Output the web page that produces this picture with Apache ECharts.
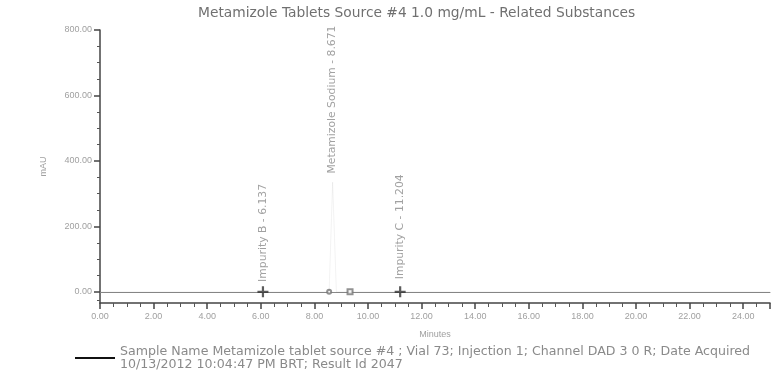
<!DOCTYPE html>
<html><head><meta charset="utf-8">
<script src="https://cdn.jsdelivr.net/npm/echarts@6/dist/echarts.min.js"></script>
<style>html,body{margin:0;padding:0;background:#fff}#c{width:772px;height:380px}</style>
</head><body><div id="c"></div>
<script>
// Chart data
const titleText = 'Metamizole Tablets Source #4 1.0 mg/mL - Related Substances';
const xTitle = 'Minutes';
const yTitle = 'mAU';
const yTickValues = [0, 200, 400, 600, 800];
const yMinorValues = [-25, 50, 100, 150, 250, 300, 350, 450, 500, 550, 650, 700, 750];
const traceTimes  = [0, 6.00, 6.08, 6.16, 8.55, 8.68, 8.82, 11.12, 11.20, 11.28, 25];
const traceValues = [0, 0, 4, 0, 0, 335, 0, 0, 5, 0, 0];
const peakTimes  = [6.08, 8.68, 11.20];
const peakLabelAt = [6, 337, 14];
const peakNames  = ['Impurity B - 6.137', 'Metamizole Sodium - 8.671', 'Impurity C - 11.204'];
const crossTimes = [6.08, 11.20];
const circleTimes = [8.55];
const squareTimes = [9.33];
const legendText = 'Sample Name Metamizole tablet source #4 ; Vial 73; Injection 1; Channel DAD 3 0 R; Date Acquired\n10/13/2012 10:04:47 PM BRT; Result Id 2047';

const chart = echarts.init(document.getElementById('c'));
chart.setOption({
  animation: false,
  backgroundColor: '#fff',
  title: { text: titleText, left: 193, top: 1,
    textStyle: { fontSize: 13.8, fontWeight: 'normal', color: '#707070', fontFamily: 'DejaVu Sans' } },
  grid: { left: 100, right: 2, top: 30, bottom: 77 },
  legend: {
    data: [{ name: legendText, icon: 'rect' }],
    left: 70, top: 340, itemWidth: 40, itemHeight: 2, itemGap: 12,
    textStyle: { fontSize: 12.6, color: '#8a8a8a', lineHeight: 13, fontFamily: 'DejaVu Sans' }
  },
  xAxis: [{
    type: 'value', min: 0, max: 25, interval: 2,
    name: xTitle, nameLocation: 'middle', nameGap: 27,
    nameTextStyle: { fontSize: 9, color: '#a0a0a0' },
    axisLine: { onZero: false, lineStyle: { color: '#444', width: 1.5 } },
    axisTick: { length: 6, lineStyle: { color: '#444', width: 1.5 } },
    minorTick: { show: true, splitNumber: 4, length: 4, lineStyle: { color: '#555' } },
    axisLabel: { fontSize: 9, color: '#a0a0a0', margin: 9, formatter: v => v.toFixed(2), showMaxLabel: false },
    splitLine: { show: false }
  }, {
    type: 'value', min: 0, max: 25, position: 'top',
    axisLine: { show: true, lineStyle: { color: '#888', width: 1 } },
    axisTick: { show: false }, axisLabel: { show: false }, splitLine: { show: false }
  }],
  yAxis: [{
    type: 'value', min: -34, max: 800,
    name: yTitle, nameLocation: 'middle', nameGap: 52, nameRotate: 90,
    nameTextStyle: { fontSize: 9, color: '#a0a0a0' },
    axisLine: { onZero: false, lineStyle: { color: '#444', width: 1.5 } },
    axisTick: { length: 6, lineStyle: { color: '#444', width: 1.5 }, customValues: yTickValues },
    axisLabel: { fontSize: 9, color: '#a0a0a0', margin: 8, formatter: v => v.toFixed(2), customValues: yTickValues },
    splitLine: { show: false }
  }, {
    type: 'value', min: -34, max: 800, position: 'left',
    axisLine: { show: false },
    axisTick: { show: true, length: 3, lineStyle: { color: '#555', width: 1 }, customValues: yMinorValues },
    axisLabel: { show: false }, splitLine: { show: false }
  }],
  series: [{
    name: legendText, type: 'line', data: traceTimes.map((t, i) => [t, traceValues[i]]),
    symbol: 'none', lineStyle: { color: '#111', width: 1, opacity: 0.05 }, itemStyle: { color: '#111' },
    silent: true
  }, {
    type: 'scatter', data: peakTimes.map((t, i) => [t, peakLabelAt[i], peakNames[i]]),
    symbolSize: 0,
    label: { show: true, rotate: 90, align: 'left', verticalAlign: 'middle', position: [0, 0], offset: [8, 0],
      formatter: p => p.data[2], fontSize: 10.8, color: '#8a8a8a', fontFamily: 'DejaVu Sans' }
  }, {
    type: 'scatter', data: crossTimes.map(t => [t, 0]),
    symbol: 'path://M4,0H6V4H10V6H6V10H4V6H0V4H4Z', symbolSize: 11,
    itemStyle: { color: '#333' }
  }, {
    type: 'scatter', data: circleTimes.map(t => [t, 0]),
    symbol: 'emptyCircle', symbolSize: 4, itemStyle: { color: '#777', borderWidth: 1 }
  }, {
    type: 'scatter', data: squareTimes.map(t => [t, 0]),
    symbol: 'emptyRect', symbolSize: 5, itemStyle: { color: '#777', borderWidth: 1 }
  }]
});
</script></body></html>
